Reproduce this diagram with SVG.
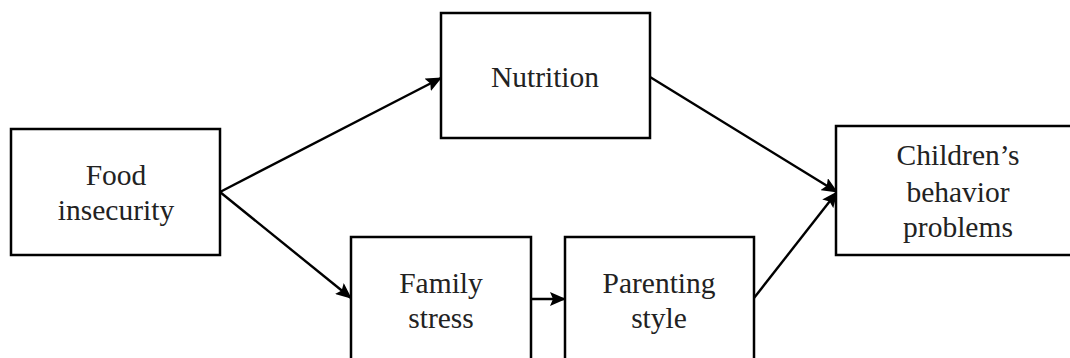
<svg xmlns="http://www.w3.org/2000/svg" width="1070" height="358" viewBox="0 0 1070 358">
<style>
.box{fill:#fff;stroke:#000;stroke-width:2.5}
.t{font-family:"Liberation Serif","Times New Roman",serif;font-size:29.5px;fill:#222;text-anchor:middle}
.c{stroke:#000;stroke-width:2.4;fill:none;marker-end:url(#ah)}
</style>
<defs>
<marker id="ah" markerWidth="16" markerHeight="14" refX="15" refY="7" orient="auto" markerUnits="userSpaceOnUse">
<path d="M0,0 L16,7 L0,14 L3,7 Z" fill="#000"/>
</marker>
</defs>
<g id="connectors">
<line class="c" x1="220" y1="192" x2="441" y2="78"/>
<line class="c" x1="220" y1="192" x2="351" y2="298"/>
<line class="c" x1="531" y1="299" x2="565" y2="299"/>
<line class="c" x1="650" y1="77" x2="837" y2="192"/>
<line class="c" x1="754" y1="298" x2="837" y2="192"/>
</g>
<g id="food">
<rect class="box" x="11" y="129" width="209" height="126"/>
<text class="t" x="116" y="185">Food</text>
<text class="t" x="116" y="220">insecurity</text>
</g>
<g id="nutrition">
<rect class="box" x="441" y="13" width="209" height="125"/>
<text class="t" x="545" y="87">Nutrition</text>
</g>
<g id="family">
<rect class="box" x="351" y="237" width="180" height="140"/>
<text class="t" x="441" y="293">Family</text>
<text class="t" x="441" y="328">stress</text>
</g>
<g id="parenting">
<rect class="box" x="565" y="237" width="189" height="140"/>
<text class="t" x="659" y="293">Parenting</text>
<text class="t" x="659" y="328">style</text>
</g>
<g id="children">
<rect class="box" x="836" y="126" width="245" height="129"/>
<text class="t" x="958" y="165">Children’s</text>
<text class="t" x="958" y="202">behavior</text>
<text class="t" x="958" y="237">problems</text>
</g>
</svg>
